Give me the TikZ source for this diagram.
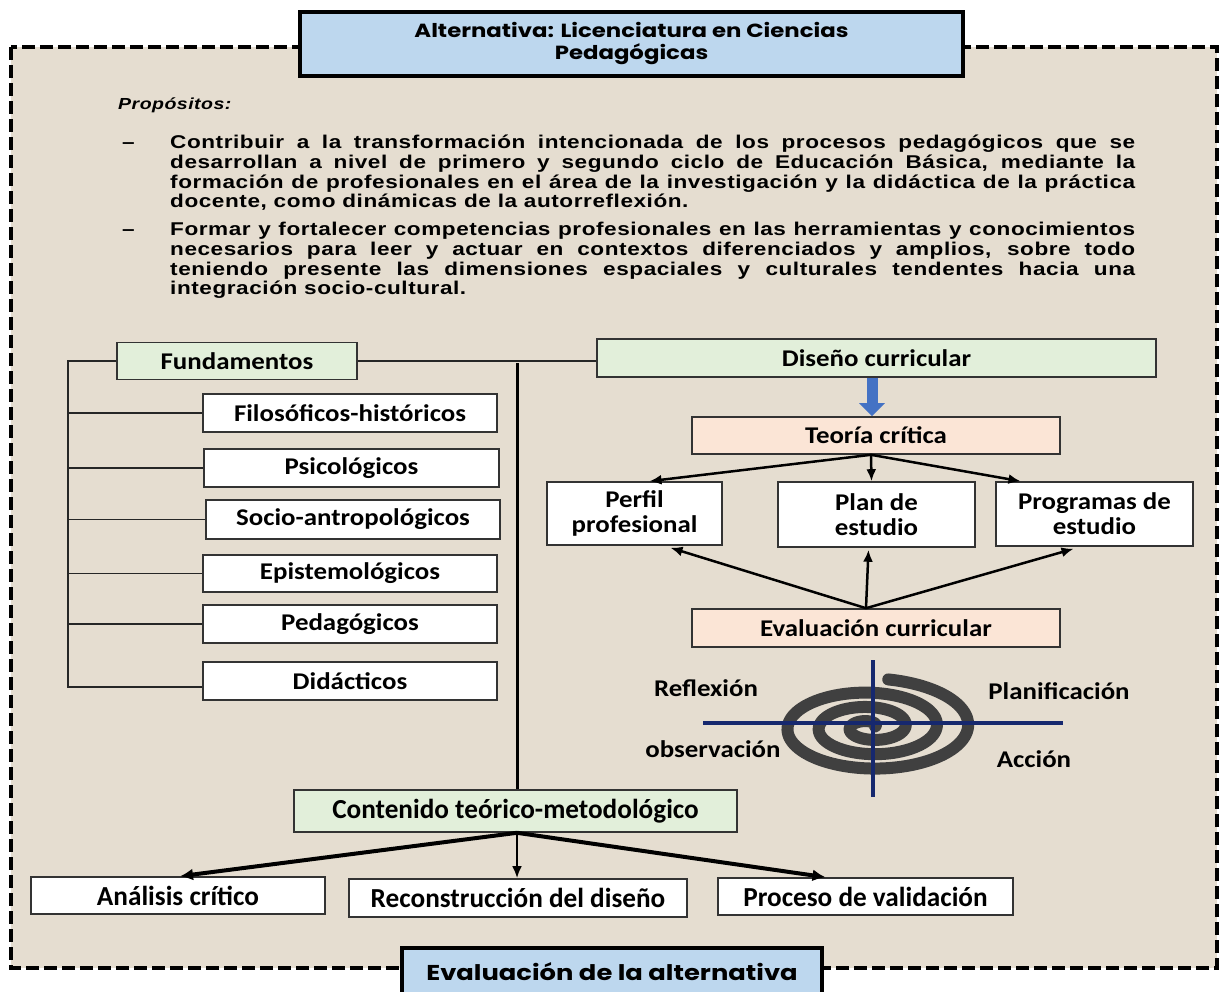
\documentclass[tikz,border=0pt]{standalone}
\usepackage{fontspec}
\setmainfont{Liberation Sans}
\newfontfamily\fArial[FakeStretch=1.22,LetterSpace=3]{Liberation Sans}
\newfontfamily\fCal[FakeStretch=1.12]{Carlito}
\newfontfamily\fCalC[FakeStretch=0.99]{Carlito}
\newfontfamily\fGoth[FakeStretch=1.2]{Poppins}
\usetikzlibrary{arrows.meta,calc}
\definecolor{bgbeige}{RGB}{229,221,208}
\definecolor{titleblue}{RGB}{189,215,238}
\definecolor{boxgreen}{RGB}{226,239,218}
\definecolor{boxsalmon}{RGB}{251,229,214}
\definecolor{arrblue}{RGB}{68,114,196}
\definecolor{crossblue}{RGB}{22,40,110}
\definecolor{spiralgray}{RGB}{64,64,64}
\begin{document}
\begin{tikzpicture}[x=1pt,y=-1pt,
  box/.style={draw=black!80, line width=1.6pt, fill=white, inner sep=0pt, align=center,
    font=\fCal\bfseries\fontsize{24}{25}\selectfont},
  gbox/.style={box, fill=boxgreen},
  sbox/.style={box, fill=boxsalmon},
  cbox/.style={box, font=\fCalC\bfseries\fontsize{27.5}{28}\selectfont},
  tbox/.style={draw=black, line width=4pt, fill=titleblue, inner sep=0pt, align=center},
  para/.style={anchor=base west, inner sep=0pt, font=\fArial\bfseries\fontsize{18.5}{19.7}\selectfont},
  lab/.style={inner sep=0pt, font=\fCal\bfseries\fontsize{24}{25}\selectfont},
  thinline/.style={draw=black!85, line width=1.4pt},
  arr/.style={line width=2.5pt, -{Latex[length=12pt,width=10pt]}},
  bigarr/.style={line width=4pt, -{Latex[length=13pt,width=12pt]}},
  midarr/.style={line width=2.6pt, -{Latex[length=12pt,width=10pt]}}
]
\useasboundingbox (0,0) rectangle (1221,992);
\clip (0,0) rectangle (1221,992);
\fill[white] (0,0) rectangle (1221,992);

% dashed frame
\draw[line width=3.5pt, dash pattern=on 13pt off 5pt, fill=bgbeige] (11,47) rectangle (1217,968);

% title
\node[tbox, minimum width=663pt, minimum height=64pt, font=\fGoth\bfseries\fontsize{19}{22}\selectfont] (title) at (631.5,44)
  {Alternativa: Licenciatura en Ciencias\\Pedagógicas};

% purposes
\node[para, font=\fArial\bfseries\itshape\fontsize{16}{18}\selectfont] (prop) at (118,110) {Propósitos:};
\node[para] (d1) at (122,149) {–};
\node[para] (l1) at (170,149) {\makebox[965pt][s]{Contribuir a la transformación intencionada de los procesos pedagógicos que se}};
\node[para] (l2) at (170,169) {\makebox[965pt][s]{desarrollan a nivel de primero y segundo ciclo de Educación Básica, mediante la}};
\node[para] (l3) at (170,189) {\makebox[965pt][s]{formación de profesionales en el área de la investigación y la didáctica de la práctica}};
\node[para] (l4) at (170,208) {docente, como dinámicas de la autorreflexión.};
\node[para] (d2) at (122,236) {–};
\node[para] (l5) at (170,236) {\makebox[965pt][s]{Formar y fortalecer competencias profesionales en las herramientas y conocimientos}};
\node[para] (l6) at (170,256) {\makebox[965pt][s]{necesarios para leer y actuar en contextos diferenciados y amplios, sobre todo}};
\node[para] (l7) at (170,276) {\makebox[965pt][s]{teniendo presente las dimensiones espaciales y culturales tendentes hacia una}};
\node[para] (l8) at (170,295) {integración socio-cultural.};

% left: fundamentos
\node[gbox, minimum width=240pt, minimum height=37pt] (fund) at (237,361) {Fundamentos};
\node[box, minimum width=294pt, minimum height=38pt] (filo) at (350,413) {Filosóficos-históricos};
\node[box, minimum width=295pt, minimum height=38pt] (psic) at (351.5,468) {Psicológicos};
\node[box, minimum width=294pt, minimum height=39pt] (soci) at (353,519.5) {Socio-antropológicos};
\node[box, minimum width=294pt, minimum height=37pt] (epis) at (350,573.5) {Epistemológicos};
\node[box, minimum width=294pt, minimum height=38pt] (peda) at (350,624) {Pedagógicos};
\node[box, minimum width=294pt, minimum height=38pt] (dida) at (350,681) {Didácticos};

\coordinate (brk) at (68,361);
\coordinate (dstub) at ($(dida.west)+(0,6)$);
\draw[thinline] (fund.west) -| (brk |- dstub) -- (dstub);
\foreach \n in {filo,psic,soci,epis,peda}
  \draw[thinline] (brk |- \n.west) -- (\n.west);

% right: diseño curricular
\node[gbox, minimum width=559pt, minimum height=38pt] (dise) at (876.5,358) {Diseño curricular};
\draw[thinline, line width=1.2pt] (fund.east) -- (fund.east -| dise.west);

\node[sbox, minimum width=368pt, minimum height=37pt] (teor) at (876,435.5) {Teoría crítica};
\draw[arrblue, line width=11pt, -{Triangle[length=13pt,width=25pt]}] ($(dise.south)+(-4.5,0)$) -- ($(teor.north)+(-4,0)$);

\node[box, minimum width=175pt, minimum height=63pt] (perf) at (634.5,513.5) {Perfil\\profesional};
\node[box, minimum width=197pt, minimum height=65pt] (plan) at (876.5,514.5) {Plan de\\estudio};
\node[box, minimum width=197pt, minimum height=64pt] (prog) at (1094.5,514) {Programas de\\estudio};
\node[sbox, minimum width=368pt, minimum height=38pt] (evc) at (876,628) {Evaluación curricular};

\coordinate (tsrc) at ($(teor.south)+(-5,0)$);
\draw[arr] (tsrc) -- ($(perf.north)+(15,0)$);
\draw[arr] (tsrc) -- ($(plan.north)+(-5,0)$);
\draw[arr] (tsrc) -- ($(prog.north)+(-74,0)$);
\coordinate (esrc) at ($(evc.north)+(-10,0)$);
\draw[arr] (esrc) -- ($(perf.south)+(36,2)$);
\draw[arr] (esrc) -- ($(plan.south)+(-8,2)$);
\draw[arr] (esrc) -- ($(prog.south)+(-21,2)$);

% spiral
\draw[spiralgray, line width=12pt, line cap=round]
  plot[domain=0:1, samples=320, smooth, variable=\q]
  ({870+(100*(1-\q)+5)*cos(80-1150*\q)}, {727-0.46*(100*(1-\q)+5)*sin(80-1150*\q)});
\coordinate (hl) at (703,723);
\coordinate (hr) at (1063,723);
\coordinate (vt) at (873,660);
\coordinate (vb) at (873,797);
\draw[crossblue, line width=3.5pt] (hl) -- (hr);
\draw[crossblue, line width=3.5pt] (vt) -- (vb);
\node[lab] (refl) at (706,688) {Reflexión};
\node[lab] (plani) at (1059,691) {Planificación};
\node[lab] (obse) at (713,749) {observación};
\node[lab] (acci) at (1034,759) {Acción};

% contenido
\node[cbox, fill=boxgreen, minimum width=443pt, minimum height=42pt] (cont) at (515.5,811) {Contenido teórico-metodológico};
\coordinate (vtop) at (517,363);
\draw[line width=3pt] (vtop) -- (vtop |- cont.north);

\node[cbox, minimum width=294pt, minimum height=37pt] (anal) at (178,895.5) {Análisis crítico};
\node[cbox, minimum width=338pt, minimum height=38pt] (reco) at (518,898) {Reconstrucción del diseño};
\node[cbox, minimum width=295pt, minimum height=37pt] (proc) at (865.5,896.5) {Proceso de validación};

\coordinate (csrc) at ($(cont.south)+(1.5,0)$);
\draw[bigarr] (csrc) -- ($(anal.north)+(2,0)$);
\draw[midarr] (csrc) -- ($(reco.north)+(-1,0)$);
\draw[bigarr] (csrc) -- ($(proc.north)+(-40,0)$);

% bottom title
\node[tbox, minimum width=420pt, minimum height=48pt, font=\fGoth\bfseries\fontsize{21.5}{24}\selectfont] (evalt) at (612,972) {Evaluación de la alternativa};
\end{tikzpicture}
\end{document}
